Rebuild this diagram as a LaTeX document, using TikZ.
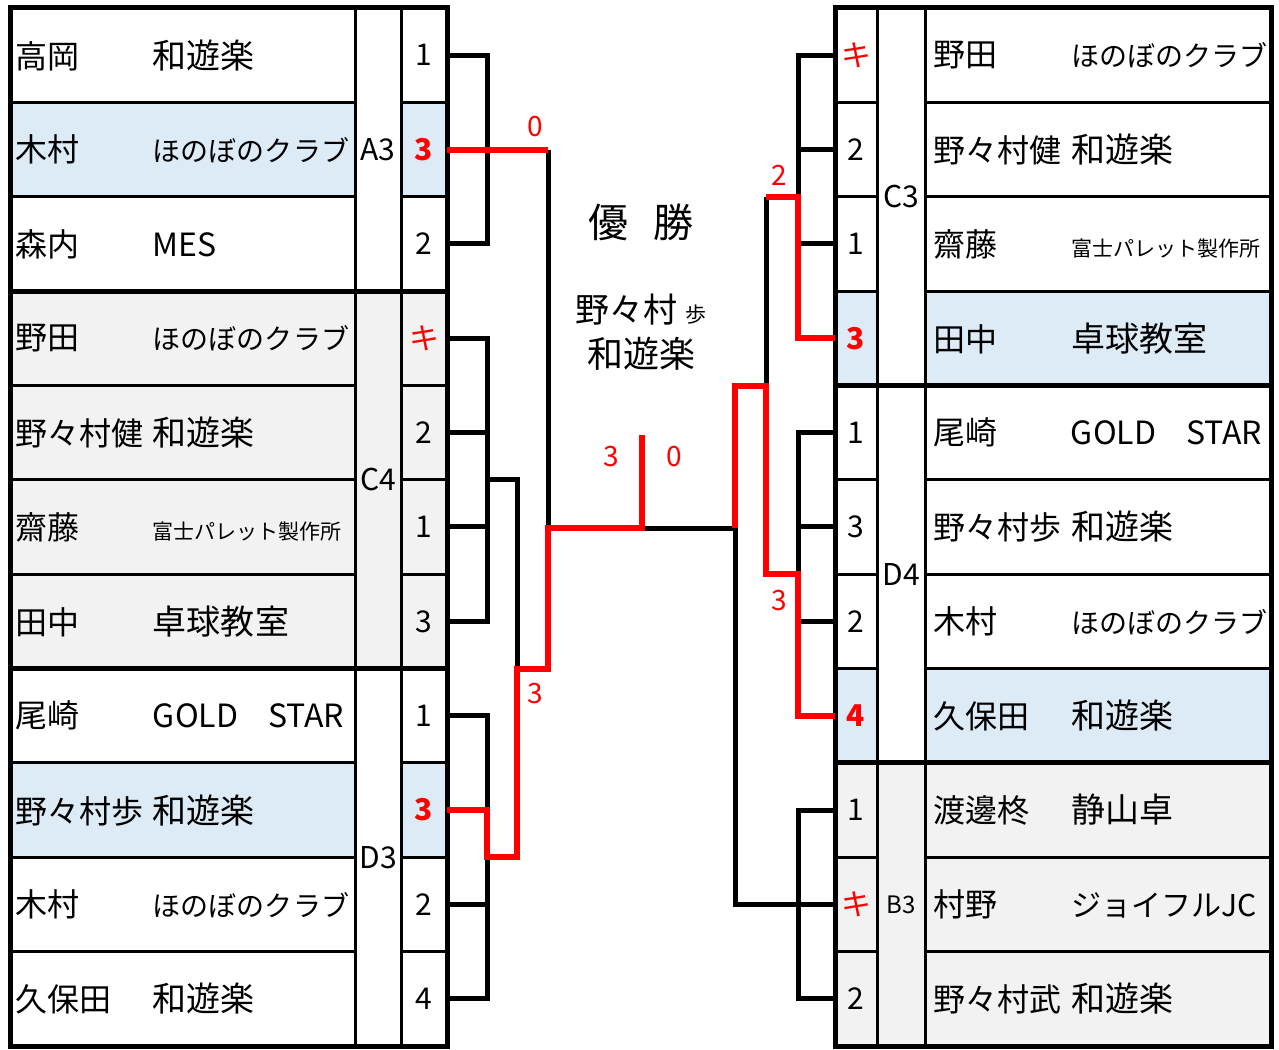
\documentclass[tikz,border=0pt]{standalone}
\usepackage{fontspec}
\setmainfont{Noto Sans CJK JP}
\definecolor{hlblue}{HTML}{DDEBF7}
\definecolor{grpgray}{HTML}{F2F2F2}
\definecolor{winred}{HTML}{FF0000}
\newcommand\win[1]{\textcolor{winred}{\bfseries #1}}
\newcommand\kiken{\textcolor{winred}{キ}}
\newcommand\tsm[1]{{\fontsize{28}{28}\selectfont #1}}
\newcommand\tlat[1]{{\fontsize{32}{32}\selectfont #1}}
\newcommand\tfuji{{\fontsize{21}{21}\selectfont 富士パレット製作所}}
\begin{document}
\begin{tikzpicture}
  [x=1pt,y=-1pt,
   every node/.style={inner sep=0pt,outer sep=0pt,font=\fontsize{30}{30}\selectfont},
   cell/.style={draw,line width=3pt,minimum height=94.36pt},
   namecell/.style={cell,minimum width=345pt,text width=333pt,align=left,
                    font=\fontsize{32}{32}\selectfont},
   rnamecell/.style={namecell,minimum width=346pt,text width=330pt},
   scorecell/.style={cell,minimum width=46pt},
   grpcell/.style={cell,minimum width=46pt},
   frame/.style={line width=5pt},
   bk/.style={line width=5pt},
   rd/.style={line width=6pt,draw=winred},
   rlabel/.style={text=winred,font=\fontsize{28}{28}\selectfont}]
  \useasboundingbox (0,0) rectangle (1279,1049);
  \fill[white] (0,0) rectangle (1279,1049);

  % left block
  \foreach \i/\nm/\tm/\sc/\bg [evaluate=\i as \yy using 8+94.36*(\i-0.5)] in
    {1/高岡/和遊楽/1/white, 2/木村/\tsm{ほのぼのクラブ}/\win{3}/hlblue,
     3/森内/\tlat{MES}/2/white, 4/野田/\tsm{ほのぼのクラブ}/\kiken/grpgray,
     5/野々村健/和遊楽/2/grpgray, 6/齋藤/\tfuji/1/grpgray,
     7/田中/卓球教室/3/grpgray, 8/尾崎/\tlat{GOLD\hspace{30pt}STAR}/1/white,
     9/野々村歩/和遊楽/\win{3}/hlblue, 10/木村/\tsm{ほのぼのクラブ}/2/white,
     11/久保田/和遊楽/4/white}{
    \node[namecell,fill=\bg] (nL\i) at (182.5,\yy)
      {\makebox[137pt][l]{\nm}{\fontsize{34}{34}\selectfont\tm}};
    \node[scorecell,fill=\bg] (sL\i) at (424,\yy) {\sc};
  }
  \node[grpcell,fill=white,minimum height=3*94.36pt] (gA3) at (378,149.54) {A3};
  \node[grpcell,fill=grpgray,minimum height=4*94.36pt] (gC4) at (378,479.8) {C4};
  \node[grpcell,fill=white,minimum height=4*94.36pt] (gD3) at (378,857.26) {D3};
  \draw[frame] (10,8) rectangle (447,1046);
  \draw[frame] (10,291.08) -- (447,291.08) (10,668.52) -- (447,668.52);

  % right block
  \foreach \i/\nm/\tm/\sc/\bg [evaluate=\i as \yy using 8+94.36*(\i-0.5)] in
    {1/野田/\tsm{ほのぼのクラブ}/\kiken/white, 2/野々村健/和遊楽/2/white,
     3/齋藤/\tfuji/1/white, 4/田中/卓球教室/\win{3}/hlblue,
     5/尾崎/\tlat{GOLD\hspace{30pt}STAR}/1/white, 6/野々村歩/和遊楽/3/white,
     7/木村/\tsm{ほのぼのクラブ}/2/white, 8/久保田/和遊楽/\win{4}/hlblue,
     9/渡邊柊/静山卓/1/grpgray, 10/村野/{\fontsize{30}{30}\selectfont ジョイフルJC}/\kiken/grpgray,
     11/野々村武/和遊楽/2/grpgray}{
    \node[rnamecell,fill=\bg] (nR\i) at (1098,\yy)
      {\makebox[138pt][l]{\nm}{\fontsize{34}{34}\selectfont\tm}};
    \node[scorecell,minimum width=42pt,fill=\bg] (sR\i) at (856,\yy) {\sc};
  }
  \node[grpcell,minimum width=48pt,fill=white,minimum height=4*94.36pt] (gC3) at (901,196.72) {C3};
  \node[grpcell,minimum width=48pt,fill=white,minimum height=4*94.36pt] (gD4) at (901,574.16) {D4};
  \node[grpcell,minimum width=48pt,fill=grpgray,minimum height=3*94.36pt,
        font=\fontsize{24}{24}\selectfont] (gB3) at (901,904.44) {B3};
  \draw[frame] (835,8) rectangle (1271,1046);
  \draw[frame] (835,385.44) -- (1271,385.44) (835,762.88) -- (1271,762.88);

  % champion
  \node (champ) at (641,222) {\fontsize{40}{40}\selectfont 優\hspace{25pt}勝};
  \node (wname) at (641,310) {\fontsize{34}{34}\selectfont 野々村\hspace{8pt}{\fontsize{21}{21}\selectfont 歩}};
  \node (wteam) at (641,354) {\fontsize{36}{36}\selectfont 和遊楽};

  % bracket joints
  \coordinate (jL) at (487,0);
  \coordinate (kL) at (517,0);
  \coordinate (mL) at (548,0);
  \coordinate (jR) at (798,0);
  \coordinate (kR) at (766,0);
  \coordinate (mR) at (735,0);
  \coordinate (c4m) at (sL5.south -| jL);
  \coordinate (d3m) at (sL9.south -| jL);
  \coordinate (d3k) at (sL9.south -| kL);
  \coordinate (cdk) at (517,668.5);
  \coordinate (cdm) at (548,668.5);
  \coordinate (lfin) at (548,528);
  \coordinate (top) at (642,528);
  \coordinate (fin) at (642,435);
  \coordinate (rfin) at (735,528);
  \coordinate (c3j) at (sR2.south -| jR);
  \coordinate (c3k) at (sR2.south -| kR);
  \coordinate (d4j) at (sR6.south -| jR);
  \coordinate (d4k) at (sR6.south -| kR);
  \coordinate (cdR) at (735,385.5);
  \coordinate (cdRk) at (766,385.5);
  \coordinate (b3m) at (sR10.west -| mR);
  \coordinate (b3j) at (sR10.west -| jR);

  % black lines
  \draw[bk] (sL1.east) -| (sL3.east -| jL) -- (sL3.east);
  \draw[bk] (sL2.east -| mL) -- (lfin);
  \draw[bk] (sL4.east) -| (sL7.east -| jL) -- (sL7.east);
  \draw[bk] (sL8.east) -| (sL11.east -| jL) -- (sL11.east);
  \foreach \i in {5,6,10}
    \draw[bk] (sL\i.east) -- (sL\i.east -| jL);
  \draw[bk] (c4m) -| (cdk);
  \draw[bk] (top) -- (rfin) -- (b3m) -- (b3j) -- (sR10.west);
  \draw[bk] (sR1.west) -| (c3j);
  \draw[bk] (sR5.west) -| (d4j);
  \draw[bk] (sR9.west) -| (sR11.west -| jR) -- (sR11.west);
  \foreach \i in {2,3,6,7}
    \draw[bk] (sR\i.west) -- (sR\i.west -| jR);
  \draw[bk] (c3k) -- (cdRk);

  % winners
  \draw[rd] (sL2.east) -- (sL2.east -| mL);
  \draw[rd] (sL9.east) -| (d3m) -- (d3k) -- (cdk) -- (cdm) -- (lfin) -- (top) -- (fin);
  \draw[rd] (rfin) -- (cdR) -- (cdRk) -- (d4k) -- (d4j) |- (sR8.west);
  \draw[rd] (c3k) -- (c3j) |- (sR4.west);

  \node[rlabel] (sA3) at (535,127) {0};
  \node[rlabel] (sFL) at (611,457) {3};
  \node[rlabel] (sFR) at (674,457) {0};
  \node[rlabel] (sCD) at (535,694) {3};
  \node[rlabel] (sC3) at (779,175) {2};
  \node[rlabel] (sD4) at (779,601) {3};
\end{tikzpicture}
\end{document}
